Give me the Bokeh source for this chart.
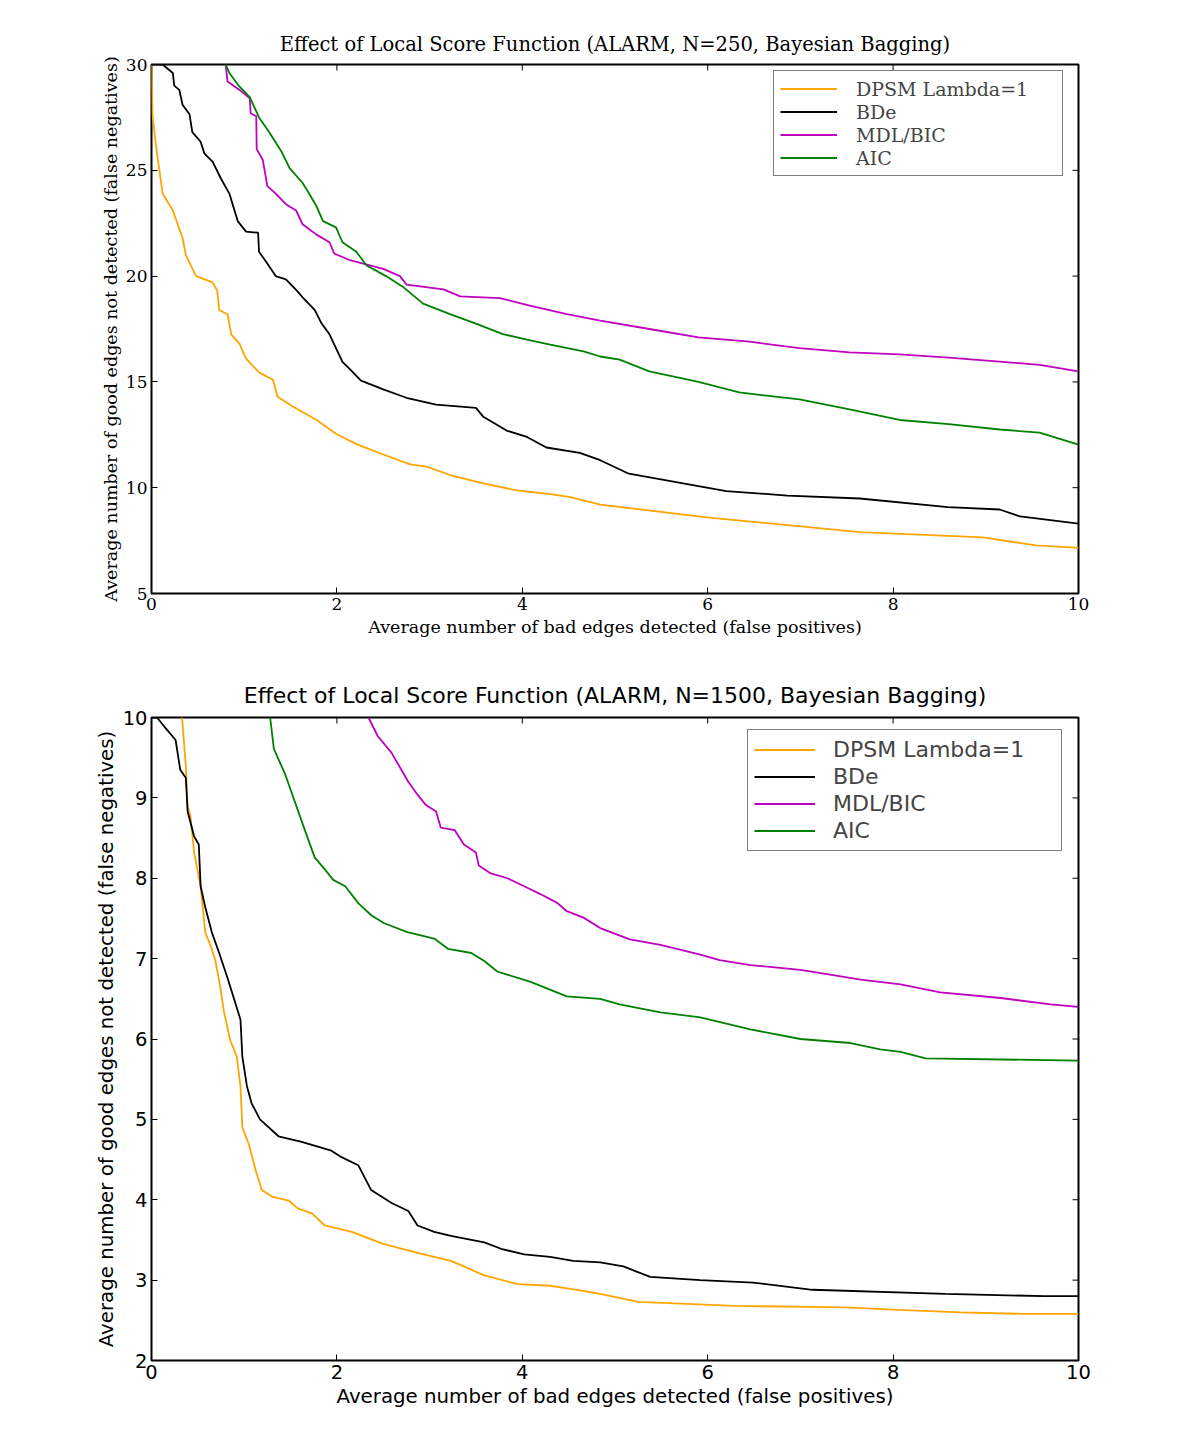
import math
from bokeh.plotting import figure
from bokeh.models import Range1d, Legend, LegendItem, FixedTicker
from bokeh.layouts import column
from bokeh.embed import file_html
from bokeh.resources import INLINE

# ---------------- data: N=250 ----------------
dpsm250_x = [0, 0.01, 0.047, 0.12, 0.23, 0.335, 0.37, 0.48, 0.66, 0.71, 0.73, 0.82, 0.86, 0.95, 1.02, 1.16, 1.31, 1.36, 1.52, 1.78, 1.99, 2.21, 2.5, 2.79, 2.97, 3.22, 3.58, 3.94, 4.3, 4.52, 4.84, 5.99, 7.64, 8.97, 9.54, 10]
dpsm250_y = [30, 27.65, 26.2, 23.9, 23.1, 21.8, 21.0, 20.0, 19.7, 19.3, 18.4, 18.2, 17.25, 16.8, 16.1, 15.45, 15.1, 14.3, 13.85, 13.2, 12.55, 12.06, 11.57, 11.1, 11.0, 10.6, 10.2, 9.87, 9.7, 9.55, 9.2, 8.6, 7.9, 7.65, 7.27, 7.16]

bde250_x = [0, 0.12, 0.23, 0.245, 0.3, 0.335, 0.41, 0.44, 0.53, 0.57, 0.66, 0.75, 0.84, 0.875, 0.93, 1.02, 1.15, 1.16, 1.24, 1.34, 1.45, 1.56, 1.63, 1.76, 1.83, 1.92, 1.99, 2.06, 2.14, 2.26, 2.5, 2.75, 3.07, 3.5, 3.58, 3.83, 4.05, 4.26, 4.62, 4.84, 5.15, 5.87, 6.2, 6.86, 7.64, 8.59, 9.15, 9.37, 10]
bde250_y = [30, 30, 29.6, 29.0, 28.8, 28.1, 27.65, 26.8, 26.35, 25.8, 25.4, 24.6, 23.9, 23.4, 22.6, 22.1, 22.05, 21.15, 20.65, 20.0, 19.85, 19.35, 19.0, 18.4, 17.8, 17.25, 16.6, 15.95, 15.6, 15.06, 14.65, 14.25, 13.93, 13.77, 13.35, 12.7, 12.4, 11.9, 11.65, 11.3, 10.66, 10.1, 9.84, 9.63, 9.49, 9.08, 8.97, 8.64, 8.3]

mdl250_x = [0.8, 0.82, 0.95, 1.06, 1.07, 1.13, 1.135, 1.2, 1.25, 1.34, 1.45, 1.56, 1.63, 1.78, 1.92, 1.97, 2.14, 2.5, 2.68, 2.75, 3.15, 3.33, 3.76, 4.08, 4.48, 4.84, 5.37, 5.9, 6.45, 6.99, 7.53, 8.07, 8.6, 9.15, 9.58, 10]
mdl250_y = [30, 29.2, 28.8, 28.4, 27.7, 27.55, 26.0, 25.5, 24.25, 23.9, 23.4, 23.1, 22.45, 21.96, 21.6, 21.07, 20.75, 20.34, 20.0, 19.6, 19.37, 19.04, 18.96, 18.6, 18.2, 17.9, 17.5, 17.1, 16.9, 16.6, 16.4, 16.3, 16.15, 15.96, 15.8, 15.5]

aic250_x = [0.8, 0.84, 0.95, 1.06, 1.16, 1.27, 1.4, 1.49, 1.63, 1.7, 1.78, 1.85, 1.99, 2.06, 2.21, 2.32, 2.53, 2.71, 2.93, 3.22, 3.5, 3.79, 4.05, 4.3, 4.66, 4.84, 5.05, 5.37, 5.9, 6.34, 6.99, 7.53, 8.07, 8.6, 9.15, 9.58, 10]
aic250_y = [30, 29.6, 28.95, 28.46, 27.5, 26.8, 25.9, 25.1, 24.4, 23.9, 23.3, 22.6, 22.3, 21.6, 21.15, 20.5, 20.0, 19.5, 18.7, 18.2, 17.75, 17.26, 17.0, 16.76, 16.44, 16.2, 16.05, 15.5, 15.0, 14.5, 14.17, 13.7, 13.2, 13.0, 12.75, 12.6, 12.04]

# ---------------- data: N=1500 ----------------
dpsm1500_x = [0.33, 0.37, 0.39, 0.42, 0.46, 0.53, 0.58, 0.65, 0.69, 0.74, 0.78, 0.85, 0.92, 0.96, 0.98, 1.05, 1.12, 1.19, 1.3, 1.48, 1.58, 1.73, 1.87, 2.16, 2.5, 2.87, 3.23, 3.59, 3.95, 4.3, 4.59, 4.84, 5.25, 6.29, 7.48, 8.06, 8.73, 9.41, 10]
dpsm1500_y = [10, 9.4, 8.89, 8.78, 8.32, 7.9, 7.33, 7.12, 6.97, 6.66, 6.35, 5.98, 5.78, 5.41, 4.9, 4.69, 4.38, 4.12, 4.04, 3.99, 3.89, 3.83, 3.68, 3.6, 3.45, 3.34, 3.24, 3.06, 2.95, 2.93, 2.88, 2.83, 2.73, 2.68, 2.66, 2.63, 2.6, 2.58, 2.58]

bde1500_x = [0, 0.06, 0.15, 0.26, 0.31, 0.37, 0.39, 0.46, 0.51, 0.53, 0.58, 0.65, 0.73, 0.82, 0.89, 0.96, 0.98, 1.03, 1.08, 1.17, 1.37, 1.62, 1.94, 2.05, 2.23, 2.37, 2.59, 2.77, 2.87, 3.05, 3.23, 3.59, 3.77, 4.02, 4.3, 4.55, 4.84, 5.09, 5.38, 5.92, 6.49, 7.13, 8.56, 9.63, 10]
bde1500_y = [10, 10, 9.87, 9.72, 9.35, 9.25, 8.83, 8.52, 8.42, 7.9, 7.64, 7.33, 7.07, 6.76, 6.5, 6.24, 5.78, 5.41, 5.2, 5.0, 4.79, 4.72, 4.61, 4.53, 4.43, 4.12, 3.96, 3.86, 3.68, 3.6, 3.55, 3.47, 3.39, 3.32, 3.29, 3.24, 3.22, 3.17, 3.04, 3.0, 2.97, 2.88, 2.83, 2.8, 2.8]

mdl1500_x = [2.34, 2.44, 2.59, 2.77, 2.87, 2.96, 3.07, 3.12, 3.27, 3.37, 3.5, 3.53, 3.66, 3.84, 4.02, 4.2, 4.38, 4.48, 4.66, 4.84, 5.16, 5.49, 5.92, 6.13, 6.46, 7.0, 7.32, 7.65, 8.08, 8.51, 9.16, 9.7, 10]
mdl1500_y = [10, 9.77, 9.56, 9.2, 9.04, 8.91, 8.83, 8.63, 8.6, 8.42, 8.32, 8.16, 8.06, 8.0, 7.9, 7.8, 7.69, 7.59, 7.51, 7.38, 7.24, 7.17, 7.05, 6.98, 6.92, 6.86, 6.8, 6.74, 6.68, 6.58, 6.51, 6.43, 6.4]

aic1500_x = [1.28, 1.32, 1.44, 1.55, 1.66, 1.76, 1.87, 1.96, 2.09, 2.23, 2.37, 2.51, 2.76, 3.05, 3.2, 3.45, 3.59, 3.73, 4.09, 4.48, 4.84, 5.05, 5.49, 5.92, 6.46, 7.0, 7.54, 7.86, 8.08, 8.35, 10]
aic1500_y = [10, 9.61, 9.3, 8.94, 8.58, 8.26, 8.11, 7.98, 7.9, 7.69, 7.54, 7.44, 7.33, 7.25, 7.12, 7.07, 6.97, 6.84, 6.71, 6.53, 6.5, 6.43, 6.33, 6.27, 6.12, 6.0, 5.95, 5.87, 5.84, 5.76, 5.73]

series_names = ["DPSM Lambda=1", "BDe", "MDL/BIC", "AIC"]
series_colors = ["#ffa500", "#000000", "#bf00bf", "#008000"]
x_ticks = [0, 2, 4, 6, 8, 10]
y_ticks_250 = [5, 10, 15, 20, 25, 30]
y_ticks_1500 = [2, 3, 4, 5, 6, 7, 8, 9, 10]


def make_plot(title, font, fs_title, title_standoff, fs_label, label_standoff, fs_tick, fs_leg,
              ylim, yticks, data, height, b_top, b_bottom, leg_loc, leg_glyph_w, leg_standoff,
              leg_label_w, leg_label_h):
    p = figure(width=1190, height=height, output_backend="svg", toolbar_location=None,
               x_range=Range1d(0, 10), y_range=Range1d(*ylim),
               min_border_left=151, min_border_right=112,
               min_border_top=b_top, min_border_bottom=b_bottom)
    p.grid.visible = False
    p.background_fill_color = "white"
    p.border_fill_color = "white"
    p.outline_line_color = "black"
    p.outline_line_width = 2
    p.title.text = title
    p.title.align = "center"
    p.title.text_font = font
    p.title.text_font_size = fs_title
    p.title.text_font_style = "normal"
    p.title.text_color = "black"
    p.title.standoff = title_standoff

    p.xaxis.ticker = FixedTicker(ticks=x_ticks)
    p.yaxis.ticker = FixedTicker(ticks=yticks)
    p.xaxis.axis_label = "Average number of bad edges detected (false positives)"
    p.yaxis.axis_label = "Average number of good edges not detected (false negatives)"
    for ax in (p.xaxis[0], p.yaxis[0]):
        ax.axis_line_color = None
        ax.major_tick_in = 6
        ax.major_tick_out = 0
        ax.minor_tick_line_color = None
        ax.major_tick_line_color = "black"
        ax.major_label_text_font = font
        ax.major_label_text_font_size = fs_tick
        ax.major_label_text_color = "black"
        ax.axis_label_text_font = font
        ax.axis_label_text_font_size = fs_label
        ax.axis_label_text_font_style = "normal"
        ax.axis_label_text_color = "black"
        ax.major_label_standoff = 4
    p.xaxis[0].axis_label_standoff = label_standoff
    p.yaxis[0].axis_label_standoff = 2

    # mirrored inward ticks on top and right edges
    p.ray(x=x_ticks, y=[ylim[1]] * len(x_ticks), length=6, length_units="screen",
          angle=-math.pi / 2, line_color="black", line_width=1)
    p.ray(x=[10] * len(yticks), y=yticks, length=6, length_units="screen",
          angle=math.pi, line_color="black", line_width=1)

    items = []
    for (xs, ys), name, col in zip(data, series_names, series_colors):
        r = p.line(xs, ys, line_color=col, line_width=1.8)
        items.append(LegendItem(label=name, renderers=[r]))
    leg = Legend(items=items, location=leg_loc, padding=6, spacing=0, margin=0,
                 glyph_width=leg_glyph_w, glyph_height=leg_label_h,
                 label_standoff=leg_standoff, label_width=leg_label_w, label_height=leg_label_h,
                 label_text_font=font, label_text_font_size=fs_leg,
                 border_line_color="black", border_line_width=1.5,
                 background_fill_alpha=1.0)
    p.add_layout(leg, "center")
    return p


p1 = make_plot("Effect of Local Score Function (ALARM, N=250, Bayesian Bagging)",
               "DejaVu Serif", "19.5px", 17, "17.5px", 4, "17px", "19px", (5, 30), y_ticks_250,
               [(dpsm250_x, dpsm250_y), (bde250_x, bde250_y), (mdl250_x, mdl250_y), (aic250_x, aic250_y)],
               654, 64, 61, (622, 417), 57, 19, 200, 23)
p2 = make_plot("Effect of Local Score Function (ALARM, N=1500, Bayesian Bagging)",
               "DejaVu Sans", "22px", 19, "19.8px", 3, "19.5px", "22px", (2, 10), y_ticks_1500,
               [(dpsm1500_x, dpsm1500_y), (bde1500_x, bde1500_y), (mdl1500_x, mdl1500_y), (aic1500_x, aic1500_y)],
               775, 63, 69, (596, 509), 61, 18, 222, 27)

layout = column(p1, p2, spacing=0)
open("out.html", "w").write(file_html(layout, INLINE))
